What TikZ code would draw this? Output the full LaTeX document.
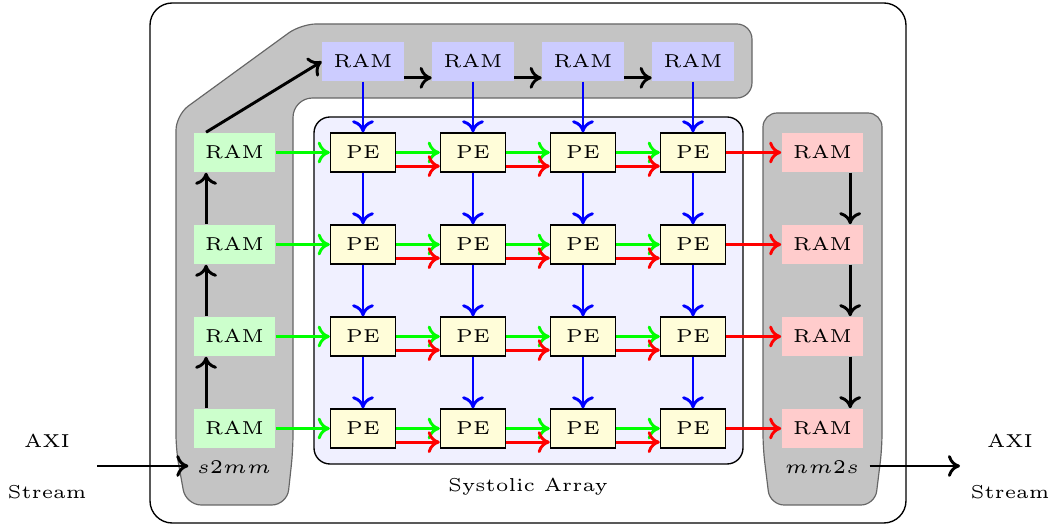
\documentclass[tikz,border=0pt]{standalone}
\usetikzlibrary{arrows.meta}
\begin{document}
\begin{tikzpicture}[x=0.2567pt,y=-0.2567pt,font=\fontsize{4.8}{5.8}\selectfont,
  arr/.style={line width=0.75pt,-{Computer Modern Rightarrow[length=3.1pt,width=5.6pt]}},
  ram/.style={minimum width=20.8pt,minimum height=10pt,inner sep=0pt},
  ramblue/.style={ram,fill=blue!20},
  ramgreen/.style={ram,fill=green!20},
  ramred/.style={ram,fill=red!20},
  pe/.style={draw,line width=0.35pt,fill=yellow!15,minimum width=16.7pt,minimum height=10pt,inner sep=0pt},
  band/.style={draw=black!60,line width=0.3pt,fill=black!23},
  lbl/.style={inner sep=0pt}]
\useasboundingbox (0,0) rectangle (1052,525);
\draw[rounded corners=5.7pt,line width=0.35pt] (150,3) rectangle (906,523);
\draw[band,rounded corners=3.9pt] (186,505) -- (176,450) -- (176,115) -- (301,24) -- (752,24) -- (752,98) [rounded corners=5pt] -- (293,98) [rounded corners=3.9pt] -- (293,450) -- (287,505) -- cycle;
\draw[band,rounded corners=3.6pt] (770,505) -- (763,448) -- (763,113) -- (882,113) -- (882,448) -- (875,505) -- cycle;
\draw[rounded corners=4.1pt,line width=0.35pt,fill=blue!6] (314,117) rectangle (743,464);
\node[lbl] (sa) at (528,487) {Systolic Array};
\foreach \c/\x in {1/363,2/473,3/583,4/693}{
  \node[ramblue] (t\c) at (\x,61.5) {RAM};
}
\foreach \r/\y in {1/152.5,2/244.5,3/336.5,4/428.5}{
  \node[ramgreen] (l\r) at (234.5,\y) {RAM};
  \node[ramred] (r\r) at (822.5,\y) {RAM};
  \foreach \c/\x in {1/363,2/473,3/583,4/693}{
    \node[pe] (p\r\c) at (\x,\y) {PE};
  }
}
% green and red
\foreach \r in {1,2,3,4}{
  \draw[arr,green] (l\r) -- (p\r1);
  \foreach \c/\n in {1/2,2/3,3/4}{
    \draw[arr,green] (p\r\c) -- (p\r\n);
    \draw[arr,red] ([yshift=-3.5pt]p\r\c.east) -- ([yshift=-3.5pt]p\r\n.west);
  }
  \draw[arr,red] (p\r4) -- (r\r);
}
% blue
\foreach \c in {1,2,3,4}{
  \draw[arr,blue] (t\c) -- (p1\c);
  \foreach \r/\n in {1/2,2/3,3/4}{
    \draw[arr,blue] (p\r\c) -- (p\n\c);
  }
}
% black
\foreach \r/\n in {4/3,3/2,2/1}{
  \draw[arr] ([xshift=-7.3pt]l\r.north) -- ([xshift=-7.3pt]l\n.south);
}
\draw[arr] ([xshift=-7.3pt]l1.north) -- (t1.west);
\foreach \c/\n in {1/2,2/3,3/4}{
  \draw[arr] ([yshift=-4.2pt]t\c.east) -- ([yshift=-4.2pt]t\n.west);
}
\foreach \r/\n in {1/2,2/3,3/4}{
  \draw[arr] ([xshift=7.1pt]r\r.south) -- ([xshift=7.1pt]r\n.north);
}
\node[lbl] (s2mm) at (234,467) {$s2mm$};
\node[lbl] (mm2s) at (822,467) {$mm2s$};
\node[lbl] (axil) at (47,441) {AXI};
\node[lbl] (strl) at (47,492) {Stream};
\node[lbl] (axir) at (1010,441) {AXI};
\node[lbl] (strr) at (1010,492) {Stream};
\coordinate (inA) at (97,466);
\coordinate (outB) at (960,466);
\draw[arr] (inA) -- ([xshift=-2pt]s2mm.west |- inA);
\draw[arr] ([xshift=2.5pt]mm2s.east |- outB) -- (outB);
\end{tikzpicture}
\end{document}
